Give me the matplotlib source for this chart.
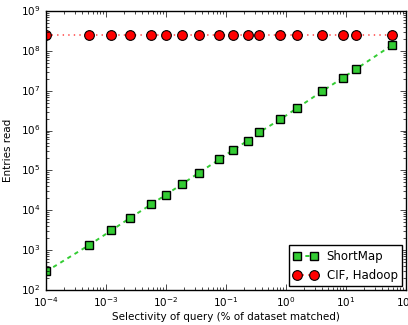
import matplotlib
matplotlib.use("Agg")
import matplotlib.pyplot as plt

selectivity = [1.0e-4, 5.2e-4, 1.22e-3, 2.47e-3, 5.7e-3, 1.0e-2, 1.88e-2, 3.52e-2,
               7.7e-2, 0.132, 0.232, 0.36, 0.80, 1.5, 3.97, 8.8, 14.7, 58.8]
shortmap = [2.9e2, 1.33e3, 3.1e3, 6.3e3, 1.41e4, 2.47e4, 4.6e4, 8.7e4,
            1.88e5, 3.3e5, 5.6e5, 9.1e5, 1.9e6, 3.6e6, 9.6e6, 2.1e7, 3.5e7, 1.4e8]
cif_hadoop = [2.5e8] * len(selectivity)

plt.style.use('classic')
plt.rcParams['font.family'] = ['DejaVu Sans']
fig = plt.figure(figsize=(4.08, 3.25), dpi=100, facecolor='white')
ax = fig.add_axes([0.113, 0.108, 0.882, 0.858])

ax.plot(selectivity, shortmap, linestyle='--', color='#33cc33', marker='s',
        markerfacecolor='#33cc33', markeredgecolor='black', markersize=6.3,
        markeredgewidth=1.0, linewidth=1.4, dashes=(3, 3), label='ShortMap')
ax.plot(selectivity, cif_hadoop, linestyle=':', color='#ff5050', marker='o',
        markerfacecolor='red', markeredgecolor='black', markersize=7.0,
        markeredgewidth=0.8, linewidth=1.2, label='CIF, Hadoop')

ax.set_xscale('log')
ax.set_yscale('log')
ax.set_xlim(1e-4, 1e2)
ax.set_ylim(1e2, 1e9)
ax.tick_params(labelsize=7.5)
ax.set_xlabel('Selectivity of query (% of dataset matched)', fontsize=7.5, labelpad=2)
ax.set_ylabel('Entries read', fontsize=7.5, labelpad=6)
leg = ax.legend(loc='lower right', numpoints=2, fontsize=8.5, fancybox=False,
                borderaxespad=0.3)
leg.get_frame().set_edgecolor('black')

fig.savefig('out.png', dpi=100, facecolor='white')
